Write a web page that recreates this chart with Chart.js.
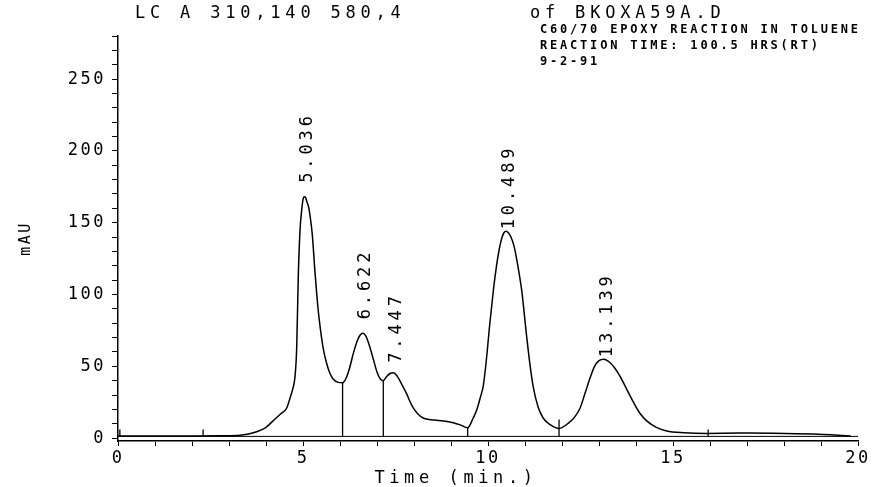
<!DOCTYPE html>
<html>
<head>
<meta charset="utf-8">
<script src="https://cdn.jsdelivr.net/npm/chart.js@4/dist/chart.umd.min.js"></script>
<style>
   html, body { margin: 0; padding: 0; background: #fff; }
   canvas { display: block; }
</style>
</head>
<body>
<canvas id="lc" width="888" height="487"></canvas>
<script>
// -----------------------------------------------------------------------------
// LC trace, 310 nm signal, with the integrator marks and retention times
// -----------------------------------------------------------------------------

// detector trace (time in min, absorbance in mAU)
var traceTimes = [
   0, 1.0, 2.0, 2.8, 3.3, 3.66, 4.0, 4.19, 4.4, 4.56, 4.65, 4.72, 4.78, 4.83,
   4.87, 4.92, 4.97, 5.0, 5.036, 5.07, 5.1, 5.15, 5.19, 5.25, 5.32, 5.4, 5.46,
   5.55, 5.64, 5.73, 5.82, 5.95, 6.07, 6.15, 6.25, 6.36, 6.47, 6.55, 6.622, 6.7,
   6.8, 6.9, 7.0, 7.08, 7.17, 7.25, 7.35, 7.447, 7.55, 7.68, 7.8, 7.9, 7.98, 8.1,
   8.25, 8.4, 8.6, 8.8, 9.06, 9.25, 9.45, 9.6, 9.7, 9.8, 9.87, 9.95, 10.05,
   10.15, 10.23, 10.3, 10.37, 10.43, 10.489, 10.55, 10.62, 10.7, 10.8, 10.91,
   11.04, 11.13, 11.22, 11.35, 11.49, 11.7, 11.92, 12.2, 12.35, 12.49, 12.62,
   12.76, 12.88, 13.0, 13.139, 13.28, 13.42, 13.57, 13.75, 13.93, 14.1, 14.29,
   14.55, 14.83, 15.3, 15.9, 16.8, 17.7, 18.8, 19.8
];
var traceValues = [
   1.5, 1.5, 1.5, 1.6, 2.0, 3.7, 7.5, 12, 17, 21, 28, 34, 42, 63,
   110, 145, 160, 166, 168, 167.5, 165, 161, 155, 142, 117, 92, 78,
   62, 52, 45, 41, 38.8, 38.5, 41, 48, 59, 68, 72, 73, 71,
   64, 55, 46, 41.5, 40, 42.5, 45, 45.5, 43, 37, 31, 25, 21, 17,
   14, 13, 12.5, 12, 10.7, 9.2, 7.2, 14, 20, 29, 36, 53, 80,
   104, 120, 131, 139, 143, 144, 143, 140, 134, 121, 103,
   72, 52, 36, 22, 14, 9, 6.7, 11, 15, 21, 31,
   42, 50, 54, 55, 53, 49, 43, 34, 25, 17.5, 12,
   7.5, 5, 3.8, 3.3, 3.5, 3.4, 2.8, 1.5
];

// integration baseline level
var baseLevel = 1.2;

// peak apexes and their retention time labels
var peakTimes   = [5.036, 6.622, 7.447, 10.489, 13.139];
var peakHeights = [168, 73, 45.5, 144, 55];
var peakLabels  = ['5.036', '6.622', '7.447', '10.489', '13.139'];

// drop lines between peaks
var dropTimes = [6.07, 7.17, 9.45, 11.92];
var dropTops  = [38.5, 40, 7.2, 13];

// event marks on the baseline
var eventTimes = [0.05, 2.3, 15.95];
var eventTops  = [6, 6, 6];

// axis ticks
var xTickLabels = [0, 5, 10, 15, 20];
var yTickLabels = [0, 50, 100, 150, 200, 250];
var yMinorStep  = 10;
var yTop        = 280;

// header text
var headerLeft  = 'LC A 310,140 580,4';
var headerRight = 'of BKOXA59A.D';
var sampleNotes = ['C60/70 EPOXY REACTION IN TOLUENE', 'REACTION TIME: 100.5 HRS(RT)', '9-2-91'];

var MONO = '"DejaVu Sans Mono", "Liberation Mono", monospace';

// build a broken line: one vertical segment per mark
function segments(times, tops) {
   let pts = [];
   for (let i = 0; i < times.length; i++) {
      pts.push({x: times[i], y: baseLevel});
      pts.push({x: times[i], y: tops[i]});
      pts.push({x: times[i], y: null});
   }
   return pts;
}

// all the plotter text that is not an axis
var plotterText = {
   id: 'plotterText',
   beforeDraw: function(chart) {
      chart.ctx.letterSpacing = '2.5px';
   },
   afterDraw: function(chart) {
      const ctx = chart.ctx;
      const xs = chart.scales.x, ys = chart.scales.y;
      ctx.save();
      ctx.fillStyle = '#000';
      ctx.textBaseline = 'middle';
      ctx.textAlign = 'left';

      ctx.font = '17px ' + MONO;
      ctx.letterSpacing = '4.8px';
      ctx.fillText(headerLeft, 135, 14);
      ctx.fillText(headerRight, 530, 14);

      ctx.font = 'bold 12px ' + MONO;
      ctx.letterSpacing = '2.8px';
      sampleNotes.forEach(function(line, i) {
         ctx.fillText(line, 540, 30 + i * 16);
      });

      ctx.font = '17px ' + MONO;
      ctx.letterSpacing = '4.6px';
      ctx.textAlign = 'center';
      ctx.fillText('Time (min.)', 456, 479);

      // retention times, written upwards above each apex
      const lift = [14, 14, 10, 2, 2];
      ctx.font = '17px ' + MONO;
      ctx.letterSpacing = '3.9px';
      ctx.textAlign = 'left';
      for (let i = 0; i < peakTimes.length; i++) {
         const px = xs.getPixelForValue(peakTimes[i]);
         const py = ys.getPixelForValue(peakHeights[i]);
         ctx.save();
         ctx.translate(px + 3, py - lift[i]);
         ctx.rotate(-Math.PI / 2);
         ctx.fillText(peakLabels[i], 0, 0);
         ctx.restore();
      }
      ctx.restore();
   }
};

var lc = new Chart(document.getElementById('lc'), {
   type: 'scatter',
   data: {
      datasets: [{
         data: traceTimes.map((t, i) => ({x: t, y: traceValues[i]})),
         showLine: true,
         borderColor: '#000',
         borderWidth: 1.5,
         pointRadius: 0,
         cubicInterpolationMode: 'monotone'
      }, {
         data: [{x: 0, y: baseLevel}, {x: 20, y: baseLevel}],
         showLine: true,
         borderColor: '#000',
         borderWidth: 1,
         pointRadius: 0
      }, {
         data: segments(dropTimes, dropTops),
         showLine: true,
         spanGaps: false,
         borderColor: '#000',
         borderWidth: 1.3,
         pointRadius: 0
      }, {
         data: segments(eventTimes, eventTops),
         showLine: true,
         spanGaps: false,
         borderColor: '#000',
         borderWidth: 1.3,
         pointRadius: 0
      }]
   },
   options: {
      responsive: false,
      animation: false,
      devicePixelRatio: 1,
      layout: {
         padding: {left: 0, right: 30, top: 36, bottom: 0}
      },
      plugins: {
         legend: {display: false},
         tooltip: {enabled: false}
      },
      scales: {
         x: {
            type: 'linear',
            min: 0,
            max: 20,
            ticks: {
               stepSize: 1,
               autoSkip: false,
               maxRotation: 0,
               padding: 2,
               color: '#000',
               font: {family: MONO, size: 17},
               callback: v => xTickLabels.includes(v) ? String(v) : ''
            },
            grid: {drawOnChartArea: false, tickLength: 5, color: '#000', lineWidth: 1},
            border: {color: '#000', width: 1.5},
            afterFit: function(scale) { scale.height = 46; }
         },
         y: {
            min: -2,
            max: yTop,
            ticks: {
               autoSkip: false,
               padding: 6,
               color: '#000',
               font: {family: MONO, size: 17},
               callback: v => yTickLabels.includes(v) ? String(v) : ''
            },
            // a tick every 10 mAU from zero up to the top of the axis
            afterBuildTicks: function(scale) {
               let ticks = [];
               for (let v = 0; v <= yTop; v += yMinorStep) ticks.push({value: v});
               scale.ticks = ticks;
            },
            grid: {drawOnChartArea: false, tickLength: 6, color: '#000', lineWidth: 1},
            border: {color: '#000', width: 1.5},
            title: {
               display: true,
               text: 'mAU',
               color: '#000',
               font: {family: MONO, size: 15},
               padding: {top: 17, bottom: 0}
            },
            afterFit: function(scale) { scale.width = 118; }
         }
      }
   },
   plugins: [plotterText]
});
</script>
</body>
</html>
